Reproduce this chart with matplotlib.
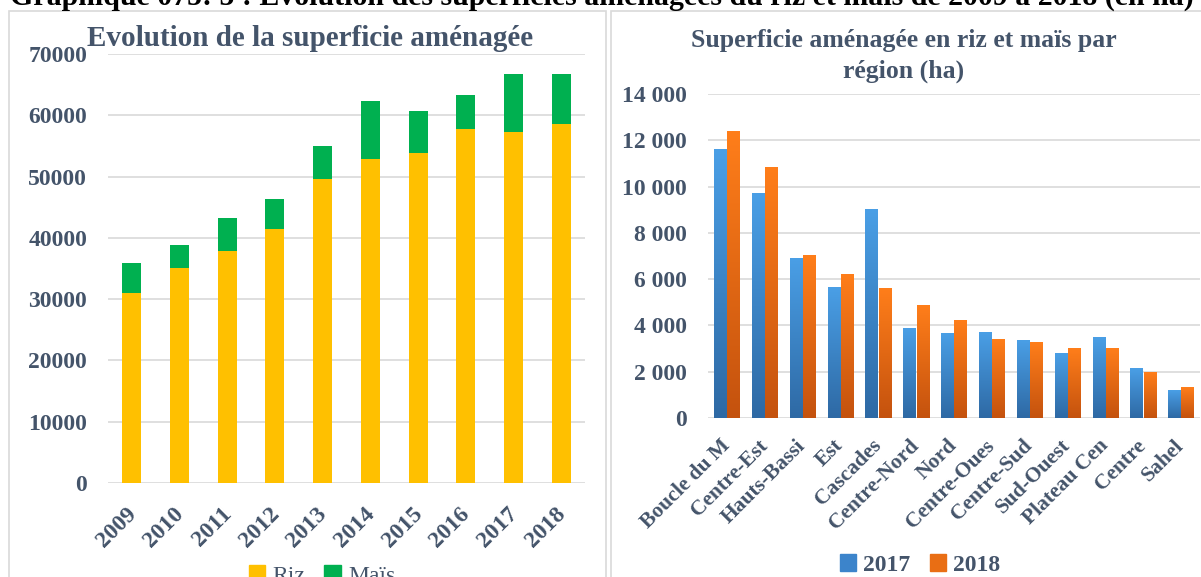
import matplotlib
matplotlib.use('Agg')
import matplotlib.pyplot as plt
import matplotlib.transforms as mtransforms
from matplotlib.colors import LinearSegmentedColormap
from matplotlib.patches import Rectangle, Patch
from matplotlib.ticker import FuncFormatter
import numpy as np

# Left chart: area by year (ha)
years = ['2009', '2010', '2011', '2012', '2013', '2014', '2015', '2016', '2017', '2018']
riz = [31000, 35100, 37900, 41400, 49600, 52900, 53900, 57800, 57300, 58500]
mais = [4900, 3700, 5300, 4900, 5400, 9400, 6800, 5500, 9400, 8300]

# Right chart: area by region (ha)
regions = ['Boucle du M', 'Centre-Est', 'Hauts-Bassi', 'Est', 'Cascades', 'Centre-Nord',
           'Nord', 'Centre-Oues', 'Centre-Sud', 'Sud-Ouest', 'Plateau Cen', 'Centre', 'Sahel']
v2017 = [11600, 9700, 6900, 5650, 9000, 3860, 3650, 3690, 3340, 2780, 3470, 2130, 1180]
v2018 = [12380, 10820, 7020, 6200, 5590, 4860, 4210, 3390, 3260, 3000, 3000, 1960, 1310]

TXT = '#44546A'
GRID = '#D9D9D9'
SERIF = ['Liberation Serif', 'DejaVu Serif']

plt.rcParams['font.family'] = SERIF

W, H = 1201, 577
fig = plt.figure(figsize=(W / 100, H / 100), dpi=100)


def fx(px):
    return px / W


def fy(py):
    return 1 - py / H


# panel frames
fig.add_artist(Rectangle((fx(9), -0.02), fx(606 - 9), fy(11) + 0.02, transform=fig.transFigure,
                         fill=False, edgecolor=GRID, linewidth=1.2))
fig.add_artist(Rectangle((fx(611), -0.02), fx(1210 - 611), fy(11) + 0.02, transform=fig.transFigure,
                         fill=False, edgecolor=GRID, linewidth=1.2))

# main title (cut at top of image)
fig.text(fx(10), fy(5), 'Graphique 075: 5 : Evolution des superficies aménagées du riz et maïs de 2009 à 2018 (en ha)',
         fontsize=21.5, fontweight='bold', color='black', va='baseline', ha='left')

# ---------- left chart ----------
ax = fig.add_axes([fx(108), fy(483), fx(585 - 108), fy(54) - fy(483)])
x = np.arange(len(years))
ax.bar(x, riz, width=0.4, color='#FFC000', zorder=3, label='Riz')
ax.bar(x, mais, width=0.4, bottom=riz, color='#00B050', zorder=3, label='Maïs')
ax.set_xlim(-0.5, len(years) - 0.5)
ax.set_ylim(0, 70000)
ax.set_yticks(range(0, 70001, 10000))
ax.grid(axis='y', color=GRID, linewidth=1.2, zorder=0)
for s in ax.spines.values():
    s.set_visible(False)
ax.tick_params(axis='both', length=0, colors=TXT)
ax.tick_params(axis='y', pad=15, labelsize=17)
for lab in ax.get_yticklabels():
    lab.set_fontweight('bold')
ax.set_xticks(x)
ax.set_xticklabels(years, rotation=45, ha='right', va='center', rotation_mode='anchor',
                   fontsize=17, fontweight='bold', color=TXT)
off = mtransforms.ScaledTranslation(1 / 100, -23 / 100, fig.dpi_scale_trans)
for lab in ax.get_xticklabels():
    lab.set_transform(lab.get_transform() + off)
fig.text(fx(310), fy(46), 'Evolution de la superficie aménagée', fontsize=21, fontweight='bold',
         color=TXT, ha='center', va='baseline')
fig.legend(handles=[Patch(color='#FFC000', label='Riz'), Patch(color='#00B050', label='Maïs')],
           loc='center', bbox_to_anchor=(fx(322), fy(576)), ncol=2, frameon=False, fontsize=17,
           labelcolor=TXT, handlelength=0.7, handleheight=0.7, handletextpad=0.3, columnspacing=0.8)

# ---------- right chart ----------
ax2 = fig.add_axes([fx(708), fy(418), fx(1200 - 708), fy(94) - fy(418)])
xr = np.arange(len(regions))
bw = 0.33
cm17 = LinearSegmentedColormap.from_list('b', ['#2E69A4', '#4A9FE6'])
cm18 = LinearSegmentedColormap.from_list('o', ['#C4520E', '#FF7E1A'])
grad = np.linspace(0, 1, 256).reshape(-1, 1)
for i in range(len(regions)):
    for val, dx, cm in ((v2017[i], -0.175, cm17), (v2018[i], 0.175, cm18)):
        ax2.imshow(grad, extent=(xr[i] + dx - bw / 2, xr[i] + dx + bw / 2, 0, val), origin='lower',
                   aspect='auto', cmap=cm, zorder=3, interpolation='bilinear')
ax2.set_xlim(-0.5, len(regions) - 0.5)
ax2.set_ylim(0, 14000)
ax2.set_aspect('auto')
ax2.set_yticks(range(0, 14001, 2000))
ax2.yaxis.set_major_formatter(FuncFormatter(lambda v, p: f'{int(v):,}'.replace(',', ' ')))
ax2.grid(axis='y', color=GRID, linewidth=1.2, zorder=0)
ax2.set_axisbelow(True)
for s in ax2.spines.values():
    s.set_visible(False)
ax2.tick_params(axis='both', length=0, colors=TXT)
ax2.tick_params(axis='y', pad=15, labelsize=17)
for lab in ax2.get_yticklabels():
    lab.set_fontweight('bold')
ax2.set_xticks(xr)
ax2.set_xticklabels(regions, rotation=45, ha='right', va='center', rotation_mode='anchor',
                    fontsize=15.5, fontweight='bold', color=TXT)
off2 = mtransforms.ScaledTranslation(0 / 100, -20 / 100, fig.dpi_scale_trans)
for lab in ax2.get_xticklabels():
    lab.set_transform(lab.get_transform() + off2)
fig.text(fx(904), fy(47), 'Superficie aménagée en riz et maïs par', fontsize=18.5, fontweight='bold',
         color=TXT, ha='center', va='baseline')
fig.text(fx(904), fy(78), 'région (ha)', fontsize=18.5, fontweight='bold',
         color=TXT, ha='center', va='baseline')
fig.legend(handles=[Patch(color='#3C84CB', label='2017'), Patch(color='#E96E14', label='2018')],
           loc='center', bbox_to_anchor=(fx(920), fy(565)), ncol=2, frameon=False,
           prop={'size': 17, 'weight': 'bold'}, labelcolor=TXT,
           handlelength=0.7, handleheight=0.7, handletextpad=0.3, columnspacing=0.8)

fig.savefig('out.png', dpi=100)
